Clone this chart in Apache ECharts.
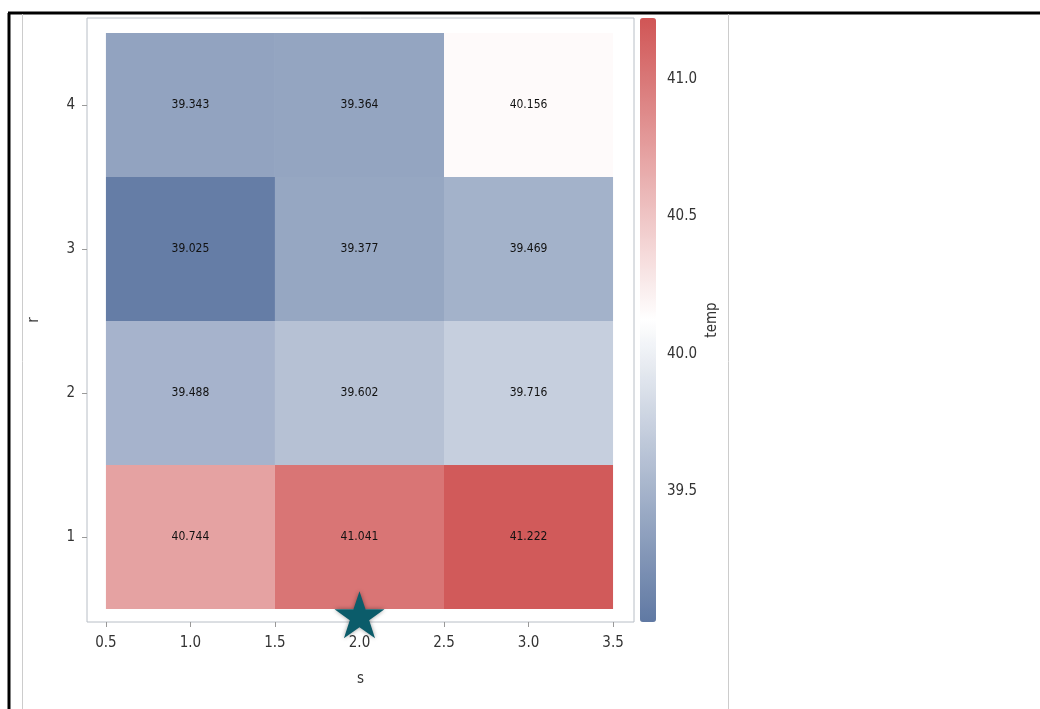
<!DOCTYPE html>
<html><head><meta charset="utf-8">
<script src="https://cdn.jsdelivr.net/npm/echarts@6/dist/echarts.min.js"></script>
<style>html,body{margin:0;padding:0;background:#fff}#c{width:1040px;height:709px}</style>
</head><body><div id="c"></div>
<script>
var sVals = [1, 2, 3];
var rVals = [1, 2, 3, 4];
// temp[r-1][s-1]
var temp = [
	[40.744, 41.041, 41.222],
	[39.488, 39.602, 39.716],
	[39.025, 39.377, 39.469],
	[39.343, 39.364, 40.156]
];
var xTicks = [0.5, 1.0, 1.5, 2.0, 2.5, 3.0, 3.5];
var yTicks = [1, 2, 3, 4];
var cbTicks = [39.5, 40.0, 40.5, 41.0];
var starPoint = [[2.0, 0.46]];

var cells = [];
for (var i = 0; i < rVals.length; i++)
	for (var j = 0; j < sVals.length; j++)
		cells.push([sVals[j], rVals[i], temp[i][j]]);

var font = "'DejaVu Sans Condensed', 'Liberation Sans Narrow', sans-serif";
var myChart = echarts.init(document.getElementById('c'));
myChart.setOption({
	animation: false,
	graphic: [
		{type: 'line', shape: {x1: 8, y1: 13, x2: 1040, y2: 13}, style: {stroke: '#000', lineWidth: 3}},
		{type: 'line', shape: {x1: 9, y1: 13, x2: 9, y2: 709}, style: {stroke: '#000', lineWidth: 3}},
		{type: 'line', shape: {x1: 22.5, y1: 14, x2: 22.5, y2: 709}, style: {stroke: '#ccc', lineWidth: 1}},
		{type: 'line', shape: {x1: 728.5, y1: 14, x2: 728.5, y2: 709}, style: {stroke: '#ccc', lineWidth: 1}}
	],
	grid: [
		{left: 87, top: 18, width: 547, height: 604, show: true, borderColor: '#b8bec6', borderWidth: 1, backgroundColor: '#fff'},
		{left: 640, top: 18, width: 16, height: 604, show: false}
	],
	xAxis: [{
		type: 'value', gridIndex: 0, min: 0.388, max: 3.624, name: 's',
		nameLocation: 'middle', nameGap: 50,
		nameTextStyle: {fontFamily: font, fontSize: 15, color: '#333'},
		splitLine: {show: false}, axisLine: {show: false},
		axisTick: {show: true, customValues: xTicks, lineStyle: {color: '#999'}},
		axisLabel: {customValues: xTicks, fontFamily: font, fontSize: 15, color: '#333', margin: 14,
			formatter: function (v) { return v.toFixed(1); }}
	}, {
		type: 'value', gridIndex: 1, show: false, min: 0, max: 1
	}],
	yAxis: [{
		type: 'value', gridIndex: 0, min: 0.41, max: 4.604, name: 'r',
		nameLocation: 'middle', nameGap: 45,
		nameTextStyle: {fontFamily: font, fontSize: 15, color: '#333'},
		splitLine: {show: false}, axisLine: {show: false},
		axisTick: {show: true, customValues: yTicks, lineStyle: {color: '#999'}},
		axisLabel: {customValues: yTicks, fontFamily: font, fontSize: 15, color: '#333', margin: 12}
	}, {
		type: 'value', gridIndex: 1, position: 'right', offset: 1, min: 39.025, max: 41.222,
		name: 'temp', nameLocation: 'middle', nameGap: 48, nameRotate: 90,
		nameTextStyle: {fontFamily: font, fontSize: 15, color: '#333'},
		splitLine: {show: false}, axisLine: {show: false},
		axisTick: {show: true, inside: false, customValues: cbTicks, length: 6, lineStyle: {color: '#999'}},
		axisLabel: {customValues: cbTicks, fontFamily: font, fontSize: 15, color: '#333', margin: 10,
			formatter: function (v) { return v.toFixed(1); }}
	}],
	visualMap: {
		type: 'continuous', min: 39.025, max: 41.222, seriesIndex: 0, dimension: 2,
		left: 635, top: 13, itemWidth: 16, itemHeight: 604, padding: 5,
		calculable: false, showLabel: false, text: null,
		inRange: {color: ['#6079a3', '#ffffff', '#d05555']}
	},
	series: [{
		type: 'custom', xAxisIndex: 0, yAxisIndex: 0, data: cells,
		renderItem: function (params, api) {
			var p0 = api.coord([api.value(0) - 0.5, api.value(1) + 0.5]);
			var p1 = api.coord([api.value(0) + 0.5, api.value(1) - 0.5]);
			return {
				type: 'rect',
				shape: {x: p0[0], y: p0[1], width: p1[0] - p0[0], height: p1[1] - p0[1]},
				style: {fill: api.visual('color'), opacity: 0.97},
				textContent: {style: {text: api.value(2).toFixed(3), fill: '#111', fontFamily: font, fontSize: 12}},
				textConfig: {position: 'inside'}
			};
		},
		encode: {x: 0, y: 1}
	}, {
		type: 'scatter', xAxisIndex: 0, yAxisIndex: 0, data: starPoint, clip: false,
		symbol: 'path://M50,0 L61.8,35.5 L99,35.5 L69,57.5 L80.5,93 L50,71 L19.5,93 L31,57.5 L1,35.5 L38.2,35.5 Z',
		symbolSize: [50, 47], z: 10,
		itemStyle: {color: '#0b5c6a', opacity: 1, shadowBlur: 4, shadowColor: 'rgba(0,0,0,0.4)'}
	}]
});
</script></body></html>
